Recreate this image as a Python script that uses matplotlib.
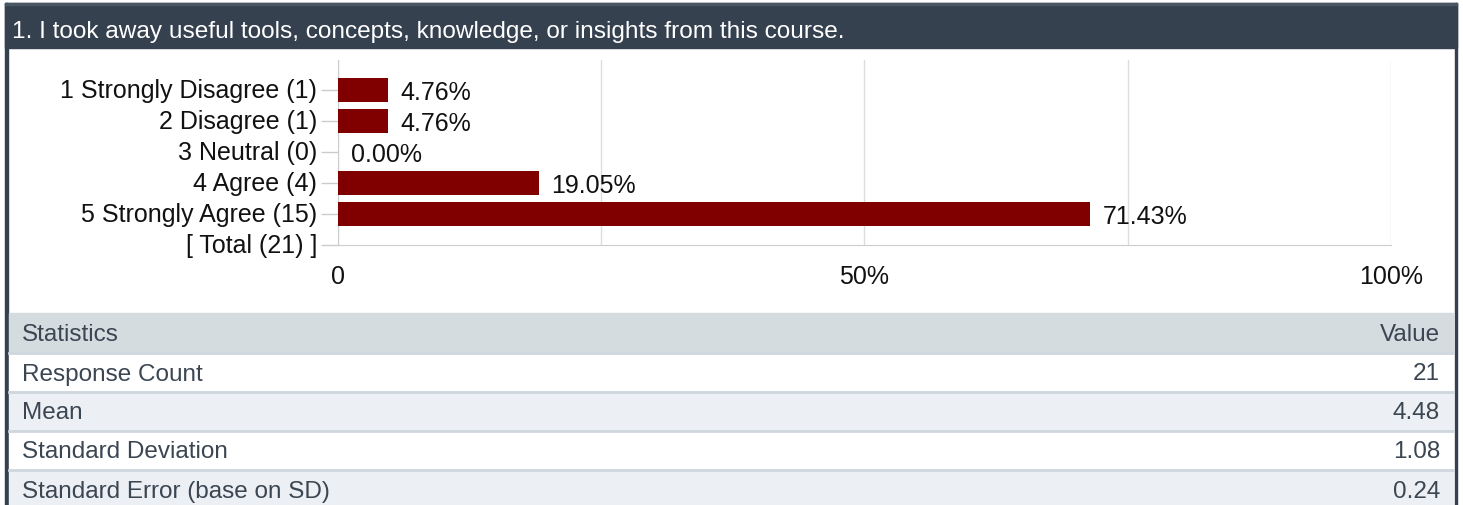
import matplotlib
matplotlib.use("Agg")
import matplotlib.pyplot as plt
import matplotlib.transforms as mtransforms
from matplotlib.patches import Rectangle

plt.rcParams['font.family'] = ['Liberation Sans', 'DejaVu Sans']

# ---- data ----
title = "1. I took away useful tools, concepts, knowledge, or insights from this course."
categories = ["1 Strongly Disagree (1)", "2 Disagree (1)", "3 Neutral (0)",
              "4 Agree (4)", "5 Strongly Agree (15)", "[ Total (21) ]"]
counts = [1, 1, 0, 4, 15]
total = 21
pct_labels = ["4.76%", "4.76%", "0.00%", "19.05%", "71.43%"]
xticks = [0, 25, 50, 75, 100]
xticklabels = ["0", "", "50%", "", "100%"]
stat_names = ["Response Count", "Mean", "Standard Deviation", "Standard Error (base on SD)"]
stat_values = ["21", "4.48", "1.08", "0.24"]

W, H = 1463, 506
FS = 18
fig = plt.figure(figsize=(W / 100, H / 100), dpi=100)

# background / frame axes in pixel coordinates
bg = fig.add_axes([0, 0, 1, 1])
bg.set_xlim(0, W)
bg.set_ylim(H, 0)
bg.axis('off')

dark = '#36414f'
bg.add_patch(Rectangle((5, 4), 1452, 45, color=dark, zorder=1))
bg.add_patch(Rectangle((5, 4), 1452, 2, color='#4b5665', zorder=2))
bg.add_patch(Rectangle((5, 4), 2.5, H, color=dark, zorder=1))
bg.add_patch(Rectangle((1454.5, 4), 2.5, H, color=dark, zorder=1))
bg.text(12, 29, title, color='white', fontsize=17.6, va='center_baseline', ha='left')

# table
tx0, tx1 = 9, 1453
row_tops = [314, 354, 393, 432, 471]
row_h = [39, 38, 38, 38, 40]
fills = ['#d5dce0', '#ffffff', '#ecf0f4', '#ffffff', '#ecf0f4']
txt_col = '#3b4652'
names = ["Statistics"] + stat_names
vals = ["Value"] + stat_values
for i in range(5):
    bg.add_patch(Rectangle((tx0, row_tops[i]), tx1 - tx0, row_h[i], color=fills[i], zorder=1))
    if i >= 1:
        bg.plot([tx0, tx1], [row_tops[i], row_tops[i]], color='#cfd6dc', lw=2, zorder=2)
    yc = row_tops[i] + row_h[i] / 2 - 1
    bg.text(22, yc, names[i], color=txt_col, fontsize=17.5, va='center_baseline', ha='left')
    bg.text(1440, yc, vals[i], color=txt_col, fontsize=17.5, va='center_baseline', ha='right')

# bar chart axes
left, right, top, bottom = 338, 1391, 61, 246
ax = fig.add_axes([left / W, 1 - bottom / H, (right - left) / W, (bottom - top) / H])
ax.set_facecolor('none')
pcts = [c / total * 100 for c in counts]
ypos = list(range(len(categories)))
ax.barh(ypos[:len(counts)], pcts, height=0.8, color='#800000', zorder=3)
for y, p, lab in zip(ypos, pcts, pct_labels):
    ax.annotate(lab, (p, y), xytext=(9, -1.2), textcoords='offset points',
                va='center', ha='left', fontsize=FS, color='#111111', zorder=4)
ax.set_xlim(0, 100)
ax.set_ylim(5, -0.97)
ax.set_yticks(ypos)
ax.set_yticklabels(categories, fontsize=FS, color='#111111', va='center')
shift = mtransforms.ScaledTranslation(0, -1.5 / 72, fig.dpi_scale_trans)
for lbl in ax.get_yticklabels():
    lbl.set_transform(lbl.get_transform() + shift)
ax.tick_params(axis='y', length=12, color='#cccccc', width=1, pad=3)
ax.set_xticks(xticks)
ax.set_xticklabels(xticklabels, fontsize=FS, color='#111111')
ax.tick_params(axis='x', length=0, pad=14)
ax.grid(axis='x', color='#dddddd', lw=1, zorder=0)
for s in ['top', 'right']:
    ax.spines[s].set_visible(False)
ax.spines['left'].set_color('#cccccc')
ax.spines['bottom'].set_color('#cccccc')

fig.savefig('out.png', dpi=100)
